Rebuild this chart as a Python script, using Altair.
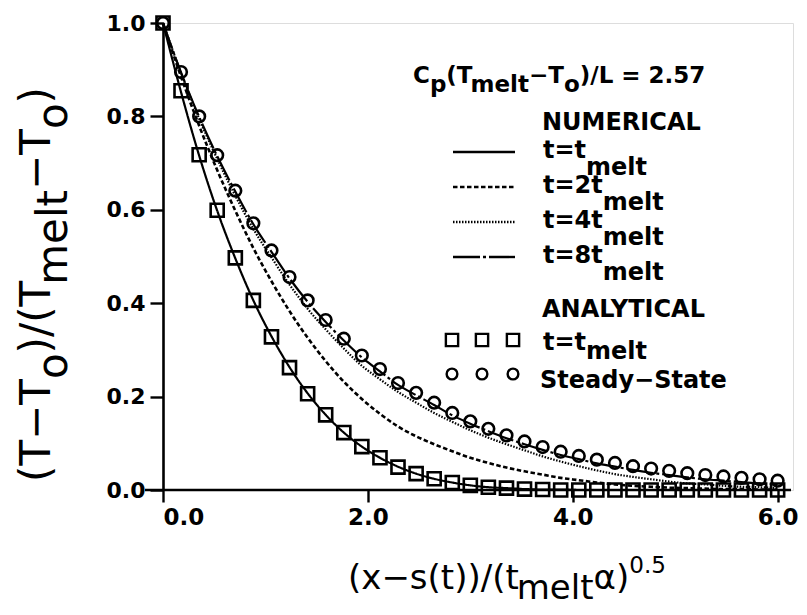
import altair as alt
import pandas as pd

# ---------------- data ----------------
x_pts = [0.000, 0.176, 0.353, 0.529, 0.706, 0.882, 1.059, 1.235, 1.412, 1.588,
         1.765, 1.941, 2.118, 2.294, 2.471, 2.647, 2.824, 3.000, 3.176, 3.353,
         3.529, 3.706, 3.882, 4.059, 4.235, 4.412, 4.588, 4.765, 4.941, 5.118,
         5.294, 5.471, 5.647, 5.824, 6.000]

# analytical, steady state (circles)
steady = [1.000, 0.895, 0.800, 0.717, 0.641, 0.571, 0.513, 0.456, 0.406, 0.364,
          0.324, 0.288, 0.259, 0.229, 0.208, 0.187, 0.165, 0.147, 0.131, 0.117,
          0.104, 0.092, 0.082, 0.073, 0.065, 0.058, 0.051, 0.046, 0.041, 0.036,
          0.032, 0.029, 0.026, 0.023, 0.020]

# analytical, t = t_melt (squares)
analytic_melt = [1.000, 0.855, 0.718, 0.599, 0.497, 0.406, 0.328, 0.262, 0.206, 0.161,
                 0.123, 0.093, 0.069, 0.049, 0.035, 0.024, 0.016, 0.010, 0.006, 0.004,
                 0.002, 0.001, 0.000, 0.000, 0.000, 0.000, 0.000, 0.000, 0.000, 0.000,
                 0.000, 0.000, 0.000, 0.000, 0.000]

# numerical curves
num_1 = [1.000, 0.852, 0.716, 0.598, 0.496, 0.406, 0.329, 0.263, 0.207, 0.161,
         0.123, 0.093, 0.069, 0.050, 0.035, 0.024, 0.016, 0.010, 0.006, 0.004,
         0.002, 0.001, 0.001, 0.000, 0.000, 0.000, 0.000, 0.000, 0.000, 0.000,
         0.000, 0.000, 0.000, 0.000, 0.000]
num_2 = [1.000, 0.885, 0.780, 0.685, 0.598, 0.518, 0.447, 0.383, 0.326, 0.276,
         0.232, 0.195, 0.163, 0.136, 0.115, 0.098, 0.083, 0.069, 0.058, 0.048,
         0.040, 0.033, 0.026, 0.021, 0.016, 0.012, 0.009, 0.007, 0.005, 0.004,
         0.003, 0.002, 0.002, 0.001, 0.001]
num_4 = [1.000, 0.893, 0.795, 0.709, 0.630, 0.559, 0.498, 0.440, 0.388, 0.344,
         0.303, 0.266, 0.237, 0.210, 0.187, 0.165, 0.146, 0.128, 0.112, 0.098,
         0.085, 0.072, 0.061, 0.051, 0.042, 0.034, 0.028, 0.023, 0.018, 0.014,
         0.012, 0.009, 0.007, 0.006, 0.004]
num_8 = [1.000, 0.894, 0.799, 0.715, 0.639, 0.569, 0.510, 0.453, 0.403, 0.360,
         0.320, 0.284, 0.254, 0.225, 0.203, 0.182, 0.160, 0.142, 0.126, 0.111,
         0.098, 0.086, 0.075, 0.066, 0.057, 0.050, 0.043, 0.037, 0.032, 0.027,
         0.023, 0.020, 0.017, 0.014, 0.012]

x_ticks = [0, 2, 4, 6]
y_ticks = [0.0, 0.2, 0.4, 0.6, 0.8, 1.0]

# ---------------- layout ----------------
FONT = "DejaVu Sans"
W, H = 630, 467
PADL, PADT, PADR, PADB = 155, 15, 6, 117


def vx(px):
    return px - (8 + PADL)


def vy(py):
    return py - (8 + PADT)


REG = {'(': .390, ')': .390, '−': .838, '/': .337, '.': .318, ' ': .318, '=': .838,
       'T': .611, 'C': .698, 'L': .557, 'S': .635, 'a': .613, 'd': .635, 'e': .615,
       'l': .278, 'm': .974, 'o': .612, 'p': .635, 's': .521, 't': .392, 'x': .592,
       'y': .592, 'α': .659}
BOLD = {'(': .457, ')': .457, '−': .838, '/': .365, '.': .380, ' ': .348, '=': .838,
        'A': .774, 'C': .734, 'E': .683, 'I': .372, 'L': .637, 'M': .995, 'N': .837,
        'R': .770, 'S': .720, 'T': .682, 'U': .812, 'Y': .724, 'a': .675, 'd': .716,
        'e': .678, 'l': .343, 'm': 1.042, 'o': .687, 'p': .716, 't': .478, 'y': .652}


def twidth(s, size, bold):
    tab = BOLD if bold else REG
    w = 0.0
    for ch in s:
        if ch.isdigit():
            w += .696 if bold else .636
        else:
            w += tab.get(ch, .7 if bold else .6)
    return w * size


layers = []


def add_text(s, px, py, size, bold=False, angle=0, align="left"):
    df = pd.DataFrame({"label": [s]})
    layers.append(
        alt.Chart(df).mark_text(
            font=FONT, fontSize=size, fontWeight="bold" if bold else "normal",
            angle=angle, align=align, baseline="alphabetic", color="black"
        ).encode(x=alt.value(vx(px)), y=alt.value(vy(py)), text="label:N")
    )


def add_rich(segs, px, py, size, bold=False, vertical=False):
    """segs: (text, baseline shift, size factor, kern)"""
    pos = 0.0
    for seg in segs:
        s, shift = seg[0], seg[1]
        f = seg[2] if len(seg) > 2 else 1.0
        kern = seg[3] if len(seg) > 3 else 0.0
        pos += kern
        sz = size * f
        if vertical:
            add_text(s, px + shift, py - pos, sz, bold, angle=270)
        else:
            add_text(s, px + pos, py + shift, sz, bold)
        pos += twidth(s, sz, bold)


# ---------------- data layers ----------------
X = alt.X("x:Q", scale=alt.Scale(domain=[0, 6.15], nice=False, zero=False),
          axis=alt.Axis(values=x_ticks, format=".1f", title=None, domain=False, grid=False,
                        tickSize=12, tickWidth=2.4, tickColor="black",
                        labelFont=FONT, labelFontSize=23, labelFontWeight="bold",
                        labelColor="black", labelPadding=4))
Y = alt.Y("y:Q", scale=alt.Scale(domain=[0, 1], nice=False),
          axis=alt.Axis(values=y_ticks, format=".1f", title=None, domain=True,
                        domainColor="black", domainWidth=2.6, grid=False,
                        tickSize=13, tickWidth=2.4, tickColor="black",
                        labelFont=FONT, labelFontSize=22, labelFontWeight="bold",
                        labelColor="black", labelPadding=5))


def frame(vals):
    return pd.DataFrame({"x": x_pts, "y": vals})


# x-axis line (extends a little left of the y axis)
layers.append(alt.Chart(pd.DataFrame({"k": [0]})).mark_rule(color="black", strokeWidth=2.6)
              .encode(x=alt.value(vx(145)), x2=alt.value(vx(791)), y=alt.value(H)))

line_styles = [
    (num_1, [1, 0], 2.2),
    (num_2, [4.5, 2.5], 2.6),
    (num_4, [1.5, 1.5], 2.2),
    (num_8, [27, 3, 3, 3], 2.2),
]
for vals, dash, sw in line_styles:
    layers.append(alt.Chart(frame(vals)).mark_line(color="black", strokeWidth=sw,
                                                    strokeDash=dash, interpolate="monotone")
                  .encode(x=X, y=Y))

layers.append(alt.Chart(frame(analytic_melt)).mark_point(shape="square", size=170, filled=False,
                                                          color="black", strokeWidth=2.6, opacity=1)
              .encode(x=X, y=Y))
layers.append(alt.Chart(frame(steady)).mark_point(shape="circle", size=135, filled=False,
                                                   color="black", strokeWidth=2.6, opacity=1)
              .encode(x=X, y=Y))

# ---------------- axis titles ----------------
add_rich([("(T−T", 0), ("o", 17), (")/(T", 0), ("melt", 17, 1.0, -4), ("−T", 0), ("o", 17), (")", 0)],
         50, 482, 42, bold=False, vertical=True)
add_rich([("(x−s(t))/(t", 0), ("melt", 10, 1.0, -2), ("α)", 0), ("0.5", -16, 0.68)],
         348, 589, 34, bold=False)

# ---------------- legend ----------------
add_rich([("C", 0), ("p", 9), ("(T", 0), ("melt", 9, 1.0, -2), ("−T", 0), ("o", 9), (")/L = 2.57", 0)],
         413, 83, 23, bold=True)
add_text("NUMERICAL", 542, 130, 24, bold=True)
add_text("ANALYTICAL", 542, 317, 24, bold=True)

legend_rows = [("t=t", [1, 0], 152), ("t=2t", [4.5, 2.5], 187),
               ("t=4t", [1.5, 1.5], 222), ("t=8t", [27, 3, 3, 3], 257)]
for lab, dash, ly in legend_rows:
    layers.append(alt.Chart(pd.DataFrame({"k": [0]})).mark_rule(color="black", strokeWidth=2.4, strokeDash=dash)
                  .encode(x=alt.value(vx(453)), x2=alt.value(vx(515)), y=alt.value(vy(ly))))
    add_rich([(lab, 0), ("melt", 17)], 543, ly + 6, 24, bold=True)

for mx in (452, 482, 513):
    layers.append(alt.Chart(pd.DataFrame({"k": [0]})).mark_point(shape="square", size=150, filled=False,
                                                                 color="black", strokeWidth=2.4, opacity=1)
                  .encode(x=alt.value(vx(mx)), y=alt.value(vy(340))))
    layers.append(alt.Chart(pd.DataFrame({"k": [0]})).mark_point(shape="circle", size=115, filled=False,
                                                                 color="black", strokeWidth=2.4, opacity=1)
                  .encode(x=alt.value(vx(mx)), y=alt.value(vy(374))))
add_rich([("t=t", 0), ("melt", 9)], 543, 350, 24, bold=True)
add_text("Steady−State", 540, 388, 24, bold=True)

chart = alt.layer(*layers).properties(
    width=W, height=H,
    padding={"left": PADL, "top": PADT, "right": PADR, "bottom": PADB},
    autosize="none",
).configure_view(stroke=None).configure(background="white")

chart.save("out.html", embed_options={"renderer": "svg", "actions": False})
